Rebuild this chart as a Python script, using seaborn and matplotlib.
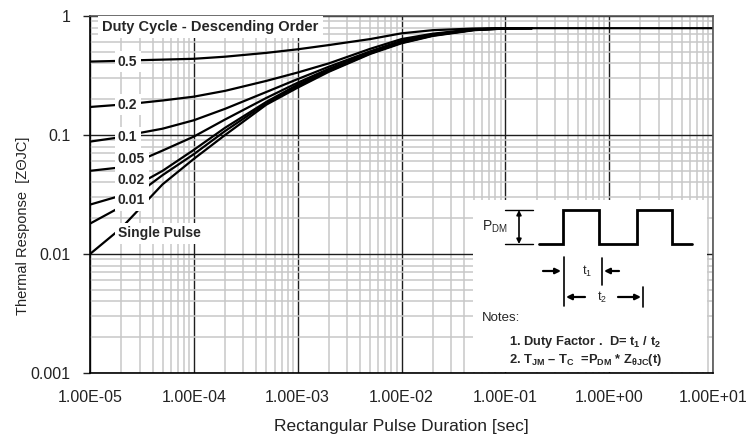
import matplotlib
matplotlib.use("Agg")
import matplotlib.pyplot as plt
import matplotlib.ticker as mticker
from matplotlib.patches import Rectangle
import numpy as np
import pandas as pd
import seaborn as sns

# ---------------- data ----------------
t_grid = [1e-5, 2e-5, 3e-5, 5e-5, 1e-4, 2e-4, 5e-4, 1e-3, 2e-3, 5e-3,
          1e-2, 2e-2, 5e-2, 1e-1, 1.8e-1]
z_d05 = [0.414, 0.42, 0.425, 0.43, 0.437, 0.455, 0.49, 0.525, 0.57, 0.64,
         0.715, 0.76, 0.785, 0.79, 0.79]
z_d02 = [0.172, 0.18, 0.186, 0.195, 0.21, 0.235, 0.285, 0.335, 0.40, 0.53,
         0.64, 0.71, 0.775, 0.79, 0.79]
z_d01 = [0.088, 0.096, 0.104, 0.113, 0.133, 0.166, 0.23, 0.295, 0.375, 0.505,
         0.62, 0.70, 0.77, 0.788, 0.79]
z_d005 = [0.050, 0.0535, 0.061, 0.074, 0.097, 0.135, 0.205, 0.275, 0.36, 0.495,
          0.61, 0.695, 0.77, 0.787, 0.79]
z_d002 = [0.026, 0.031, 0.039, 0.050, 0.075, 0.115, 0.19, 0.265, 0.35, 0.49,
          0.60, 0.69, 0.765, 0.786, 0.79]
z_d001 = [0.018, 0.025, 0.033, 0.046, 0.069, 0.108, 0.185, 0.258, 0.345, 0.485,
          0.595, 0.685, 0.765, 0.785, 0.79]
t_single = t_grid + [1.0, 10.0]
z_single = [0.010, 0.0165, 0.024, 0.0385, 0.063, 0.10, 0.18, 0.25, 0.34, 0.48,
            0.59, 0.68, 0.76, 0.785, 0.79, 0.79, 0.79]

series_names = ["0.5", "0.2", "0.1", "0.05", "0.02", "0.01", "Single Pulse"]
series_t = [t_grid, t_grid, t_grid, t_grid, t_grid, t_grid, t_single]
series_z = [z_d05, z_d02, z_d01, z_d005, z_d002, z_d001, z_single]
label_t = [1.86e-5] * 7
label_z = [0.413, 0.179, 0.096, 0.0629, 0.0419, 0.0284, 0.0150]

x_ticks = [1e-5, 1e-4, 1e-3, 1e-2, 1e-1, 1e0, 1e1]
x_ticklabels = ["1.00E-05", "1.00E-04", "1.00E-03", "1.00E-02",
                "1.00E-01", "1.00E+00", "1.00E+01"]
y_ticks = [0.001, 0.01, 0.1, 1]
y_ticklabels = ["0.001", "0.01", "0.1", "1"]

# ---------------- style ----------------
sns.set_style("white")
FONT = ["Liberation Sans", "DejaVu Sans"]
plt.rcParams["font.family"] = FONT
plt.rcParams["mathtext.fontset"] = "custom"
plt.rcParams["mathtext.rm"] = "Liberation Sans"
plt.rcParams["mathtext.bf"] = "Liberation Sans:bold"
plt.rcParams["mathtext.it"] = "Liberation Sans:italic"

W, H = 752, 441
fig = plt.figure(figsize=(W / 100, H / 100), dpi=100)
L, R, T, B = 90, 713, 16, 373
ax = fig.add_axes([L / W, 1 - B / H, (R - L) / W, (B - T) / H])

frames = []
for name, tt, zz in zip(series_names, series_t, series_z):
    frames.append(pd.DataFrame({"t": tt, "z": zz, "series": name}))
df = pd.concat(frames, ignore_index=True)

for name in series_names:
    sub = df[df["series"] == name]
    sns.lineplot(data=sub, x="t", y="z", ax=ax, color="black", lw=1.6,
                 estimator=None, sort=False, zorder=2)

ax.set_xscale("log")
ax.set_yscale("log")
ax.set_xlim(1e-5, 10)
ax.set_ylim(1e-3, 1)

ax.xaxis.set_major_locator(mticker.FixedLocator(x_ticks))
ax.xaxis.set_major_formatter(mticker.FixedFormatter(x_ticklabels))
ax.yaxis.set_major_locator(mticker.FixedLocator(y_ticks))
ax.yaxis.set_major_formatter(mticker.FixedFormatter(y_ticklabels))
ax.xaxis.set_minor_locator(mticker.LogLocator(base=10, subs=np.arange(2, 10), numticks=20))
ax.yaxis.set_minor_locator(mticker.LogLocator(base=10, subs=np.arange(2, 10), numticks=20))
ax.xaxis.set_minor_formatter(mticker.NullFormatter())
ax.yaxis.set_minor_formatter(mticker.NullFormatter())

ax.grid(which="minor", color="#c8c8c8", lw=1.1)
ax.grid(which="major", color="#1e1e1e", lw=1.0)
ax.set_axisbelow(True)

ax.tick_params(axis="x", which="major", length=0, pad=12, labelsize=11.5, colors="#222222")
ax.tick_params(axis="y", which="major", length=5, width=1, direction="out",
               pad=9, labelsize=11.5, colors="#222222", left=True)
ax.tick_params(which="minor", length=0)

for side in ["left", "bottom"]:
    ax.spines[side].set_color("black")
    ax.spines[side].set_linewidth(1.2)
for side in ["top", "right"]:
    ax.spines[side].set_color("#555555")
    ax.spines[side].set_linewidth(1.2)

ax.set_xlabel("Rectangular Pulse Duration [sec]", fontsize=12.5, color="#222222", va="center")
ax.xaxis.set_label_coords(0.5, -0.151)
ax.set_ylabel("Thermal Response  [ZΘJC]", fontsize=10.5, color="#222222", va="center")
ax.yaxis.set_label_coords(-0.1075, 0.412)

# curve labels
for name, lt, lz in zip(series_names, label_t, label_z):
    ax.text(lt, lz, name, fontsize=10, fontweight="bold", ha="left", va="center",
            zorder=4,
            bbox=dict(boxstyle="square,pad=0.25", fc="white", ec="none"))

ax.text(0.0193, 0.969, "Duty Cycle - Descending Order", transform=ax.transAxes,
        fontsize=10.5, fontweight="bold", ha="left", va="center", zorder=4,
        bbox=dict(boxstyle="square,pad=0.3", fc="white", ec="none"))

# ---------------- inset notes diagram (pixel coordinates) ----------------
ov = fig.add_axes([0, 0, 1, 1])
ov.set_xlim(0, W)
ov.set_ylim(H, 0)
ov.axis("off")
ov.patch.set_alpha(0)

ov.add_patch(Rectangle((473, 200), 234, 172, fc="white", ec="none", zorder=1))

ov.plot([539, 563, 563, 599, 599, 637, 637, 672, 672, 692],
        [244, 244, 210, 210, 244, 244, 210, 210, 244, 244],
        color="black", lw=2.0, solid_joinstyle="miter", zorder=3)
ov.plot([505, 533], [210, 210], color="black", lw=1.0, zorder=3)
ov.plot([505, 533], [244, 244], color="black", lw=1.0, zorder=3)
ov.annotate("", xy=(519, 210), xytext=(519, 244),
            arrowprops=dict(arrowstyle="<|-|>", color="black", lw=1.2,
                            mutation_scale=7, shrinkA=0, shrinkB=0), zorder=3)
ov.text(482, 227, r"P$_{\mathrm{DM}}$", fontsize=10, ha="left", va="center", zorder=3)

ov.plot([564, 564], [257, 306], color="black", lw=1.2, zorder=3)
ov.plot([601.7, 601.7], [258, 285], color="black", lw=1.2, zorder=3)
ov.plot([642.7, 642.7], [287, 307], color="black", lw=1.2, zorder=3)
for (x0, x1, y) in [(543, 561, 271), (619, 604, 271), (585, 566, 297), (618, 641, 297)]:
    ov.annotate("", xy=(x1, y), xytext=(x0, y),
                arrowprops=dict(arrowstyle="-|>", color="black", lw=1.6,
                                mutation_scale=8, shrinkA=0, shrinkB=0), zorder=3)
ov.text(586.7, 271, r"t$_{1}$", fontsize=9, ha="center", va="center", zorder=3)
ov.text(601.7, 297, r"t$_{2}$", fontsize=9, ha="center", va="center", zorder=3)

ov.text(481.7, 318, "Notes:", fontsize=9.5, ha="left", va="center", zorder=3)
ov.text(509.3, 342.5, r"1. Duty Factor .  D= t$_\mathbf{1}$ / t$_\mathbf{2}$",
        fontsize=9.3, fontweight="bold", ha="left", va="center", zorder=3)
ov.text(509.3, 359.5, r"2. T$_\mathbf{JM}$ – T$_\mathbf{C}$  =P$_\mathbf{DM}$ * Z$_\mathbf{θJC}$(t)",
        fontsize=9.3, fontweight="bold", ha="left", va="center", zorder=3)

fig.savefig("out.png", dpi=100)
